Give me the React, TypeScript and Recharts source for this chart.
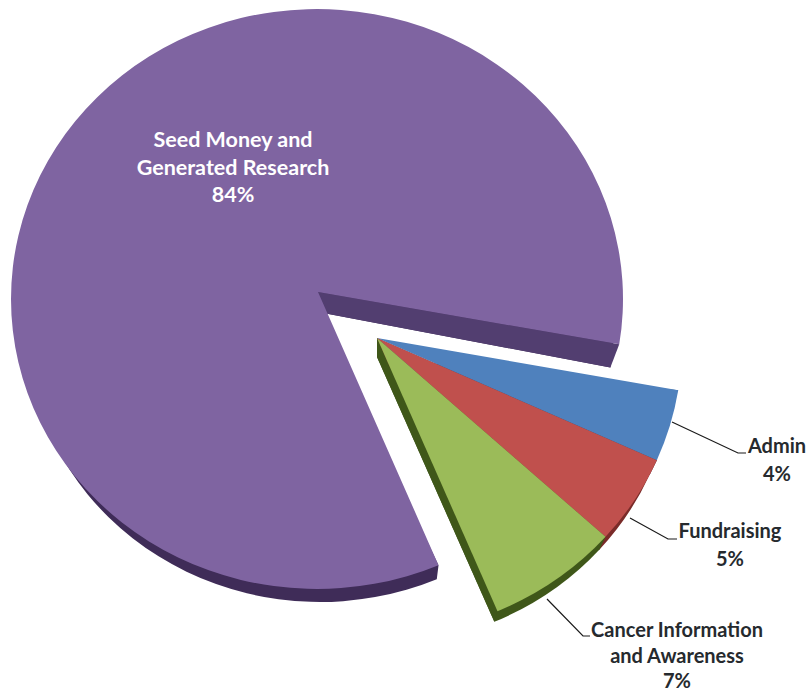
import React from "react";
import { PieChart, Pie } from "recharts";

const categories = [
  "Admin",
  "Fundraising",
  "Cancer Information and Awareness",
  "Seed Money and Generated Research",
];
const shares = [4, 5, 7, 84];
const topColors = ["#4f81bd", "#c0504d", "#9bbb59", "#7f64a1"];
const sideColors = ["#2f5079", "#7a2b29", "#3f5719", "#3f2c58"];
const cutColors = ["#2f5079", "#7a2b29", "#3f5719", "#523e70"];

const pieData = categories.map((name, i) => ({
  name,
  value: shares[i],
  fill: topColors[i],
  side: sideColors[i],
  cut: cutColors[i],
}));

const RAD = Math.PI / 180;
const SEED = categories[3];

// the three small slices are pulled out together
const explode = { x: 59, y: 46 };

// top face and bottom face are ellipses, the bottom one smaller and lower (fake perspective)
const topFace = { dx: 0, dy: 0, rx: 306, ry: 290, apexX: 1, apexY: -7 };
const seedBottom = { dx: 3, dy: 25, rx: 294, ry: 278, apexX: -2, apexY: -12 };
const sliceBottom = { dx: 0, dy: 18, rx: 298, ry: 282, apexX: 1, apexY: -6 };

type Face = typeof topFace;

const onFace = (cx: number, cy: number, f: Face, angle: number) => ({
  x: cx + f.dx + f.rx * Math.cos(angle * RAD),
  y: cy + f.dy - f.ry * Math.sin(angle * RAD),
});
const apexOf = (cx: number, cy: number, f: Face) => ({
  x: cx + f.dx + f.apexX,
  y: cy + f.dy + f.apexY,
});

function centerOf(props: any) {
  const out = props.name === SEED ? { x: 0, y: 0 } : explode;
  return { cx: props.cx + out.x, cy: props.cy + out.y };
}

function TopSlice(props: any) {
  const { cx, cy } = centerOf(props);
  const { startAngle, endAngle, fill } = props;
  const a = onFace(cx, cy, topFace, startAngle);
  const b = onFace(cx, cy, topFace, endAngle);
  const apex = apexOf(cx, cy, topFace);
  const large = Math.abs(endAngle - startAngle) > 180 ? 1 : 0;
  const d = `M${apex.x},${apex.y} L${a.x},${a.y} A${topFace.rx},${topFace.ry} 0 ${large} 1 ${b.x},${b.y} Z`;
  return <path d={d} fill={fill} />;
}

function SideSlice(props: any) {
  const { cx, cy } = centerOf(props);
  const { startAngle, endAngle } = props;
  const f = props.name === SEED ? seedBottom : sliceBottom;
  const topA = onFace(cx, cy, topFace, startAngle);
  const topB = onFace(cx, cy, topFace, endAngle);
  const topApex = apexOf(cx, cy, topFace);
  const a = onFace(cx, cy, f, startAngle);
  const b = onFace(cx, cy, f, endAngle);
  const apex = apexOf(cx, cy, f);
  const large = Math.abs(endAngle - startAngle) > 180 ? 1 : 0;
  const rim =
    `M${apex.x},${apex.y} L${topA.x},${topA.y} L${a.x},${a.y} ` +
    `A${f.rx},${f.ry} 0 ${large} 1 ${b.x},${b.y} Z`;
  const cut = `M${topApex.x},${topApex.y} L${topB.x},${topB.y} L${b.x},${b.y} L${apex.x},${apex.y} Z`;
  return (
    <g>
      <path d={rim} fill={props.side} />
      <path d={cut} fill={props.cut} />
    </g>
  );
}

const labelFont = "Lato, 'Open Sans', sans-serif";

// text placement and leader lines for each slice
const labelLayout: Record<
  string,
  { x: number; y: number; lines: string[]; leader?: string; color: string; size: number; step: number }
> = {
  Admin: {
    x: 777,
    y: 453,
    lines: ["Admin"],
    leader: "672,422 738,453 746,453",
    color: "#262a2e",
    size: 20,
    step: 27.5,
  },
  Fundraising: {
    x: 730,
    y: 538,
    lines: ["Fundraising"],
    leader: "630,518 668,539 677,539",
    color: "#262a2e",
    size: 20,
    step: 27.5,
  },
  "Cancer Information and Awareness": {
    x: 677,
    y: 637,
    lines: ["Cancer Information", "and Awareness"],
    leader: "547,599 583,636 590,636",
    color: "#262a2e",
    size: 20,
    step: 25.5,
  },
  "Seed Money and Generated Research": {
    x: 233,
    y: 147,
    lines: ["Seed Money and", "Generated Research"],
    color: "#ffffff",
    size: 21.5,
    step: 27.5,
  },
};

function SliceLabel(props: any) {
  const layout = labelLayout[props.name];
  if (!layout) return null;
  const rows = [...layout.lines, `${props.value}%`];
  return (
    <g>
      {layout.leader && <polyline points={layout.leader} fill="none" stroke="#1a1a1a" strokeWidth={1.2} />}
      <text
        x={layout.x}
        y={layout.y}
        textAnchor="middle"
        fontFamily={labelFont}
        fontWeight={700}
        fontSize={layout.size}
        fill={layout.color}
      >
        {rows.map((row, i) => (
          <tspan key={row} x={layout.x} dy={i === 0 ? 0 : layout.step}>
            {row}
          </tspan>
        ))}
      </text>
    </g>
  );
}

export default function App() {
  const pieProps = {
    data: pieData,
    dataKey: "value",
    nameKey: "name",
    cx: 317,
    cy: 299,
    outerRadius: 306,
    startAngle: -9,
    endAngle: -369,
    stroke: "none",
    isAnimationActive: false,
  };
  return (
    <div style={{ width: 808, height: 692, background: "#fff" }}>
      <style>{"body { margin: 0; }"}</style>
      <PieChart width={808} height={692} margin={{ top: 0, right: 0, bottom: 0, left: 0 }}>
        <Pie {...pieProps} shape={SideSlice} />
        <Pie {...pieProps} shape={TopSlice} label={SliceLabel} labelLine={false} />
      </PieChart>
    </div>
  );
}
